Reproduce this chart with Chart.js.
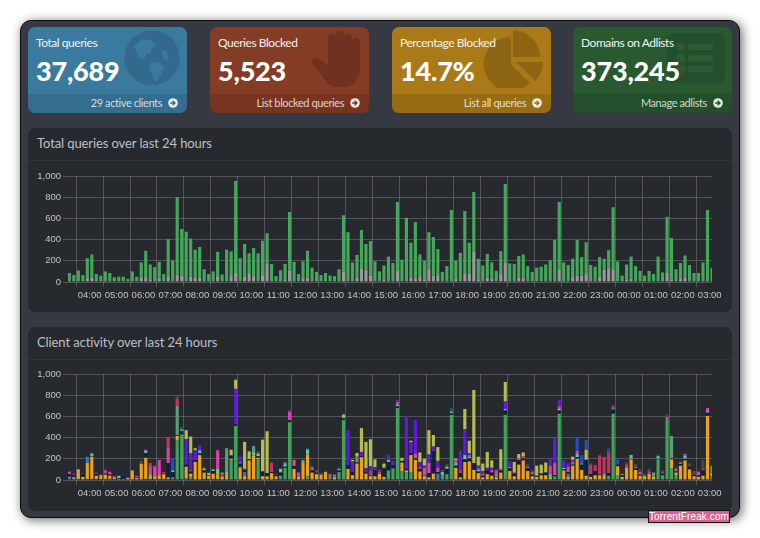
<!DOCTYPE html>
<html><head><meta charset="utf-8"><title>Pi-hole dashboard</title>
<script src="https://cdn.jsdelivr.net/npm/chart.js@4"></script>
<style>
html,body{margin:0;padding:0;background:#fff;width:760px;height:538px;overflow:hidden}
*{box-sizing:border-box}
body{font-family:Lato,"Noto Sans",sans-serif;position:relative}
#panel{position:absolute;left:20px;top:20px;width:720px;height:498px;background:#353a42;border:1px solid #0c0c0c;border-radius:11px;box-shadow:2px 2px 11px rgba(0,0,0,.6)}
.card{position:absolute;top:27px;width:159px;height:86px;border-radius:7px;overflow:hidden;color:#fff}
.card .foot{position:absolute;left:0;right:0;bottom:0;height:19px;background:rgba(0,0,0,.1)}
.card .foot span{position:absolute;right:25px;top:2px;font-size:11px;letter-spacing:-.4px;color:rgba(255,255,255,.78);white-space:nowrap}
.card .ttl{position:absolute;left:8px;top:8px;font-size:12px;letter-spacing:-.45px;white-space:nowrap;color:#f2f2f2}
.card .num{position:absolute;left:8px;top:27px;font-size:27px;font-weight:900;letter-spacing:-.2px;white-space:nowrap}
.card svg{position:absolute}
.arrow{right:9px;bottom:5px;width:10px;height:10px}
.box{position:absolute;left:28px;width:704px;height:184px;background:#26292e;border-radius:7px}
.box h3{margin:0;position:absolute;left:0;right:0;top:0;height:33px;border-bottom:1px solid #31353a;font-weight:400;font-size:13px;color:#b9c0c7;padding:7px 0 0 9px;letter-spacing:-.1px}
canvas{position:absolute;left:28px;display:block}
#wm{position:absolute;left:648px;top:510px;width:82px;height:13px;background:#d9608f;border:1px solid #111;color:#fff;font:10px/11px "Liberation Sans",sans-serif;text-align:center;letter-spacing:.1px}
</style></head><body>
<div id="panel"></div>

<div class="card" style="left:28px;background:#3a7a9f">
<svg style="left:96px;top:3px" width="56" height="56" viewBox="0 0 56 56"><circle cx="28" cy="28" r="27.5" fill="#33678a" opacity=".9"/><path d="M10 16l8-7 9 1 5 5-4 3-1 5-5 1-2 5-5-1-3-7zM38 20l5 2 2 8-4 1-3-5zM26 33l8-1 6 5-3 8-4 6-3 0-2-8-3-5z" fill="#3a7a9f"/></svg>
<div class="foot"></div>
<div class="ttl">Total queries</div><div class="num">37,689</div>
<div class="foot" style="background:none"><span>29 active clients</span></div>
<svg class="arrow" viewBox="0 0 10 10"><circle cx="5" cy="5" r="4.8" fill="#e8eef2"/><path d="M2.2 4.3h3l-1.1-1.2 1-.9 2.8 2.8-2.8 2.8-1-.9 1.100-1.200h-3z" fill="#346f90"/></svg>
</div>

<div class="card" style="left:210px;background:#853c25">
<svg style="left:101px;top:3px" width="52" height="58" viewBox="0 0 52 58"><path d="M17 30V8a4 4 0 0 1 8 0V5a4 4 0 0 1 8 0v3a4 4 0 0 1 8 0v4a4 4 0 0 1 8 0v26c0 10-6 19-15 19H26c-6 0-9-3-12-7L2 34c-3-4 2-8 6-5l9 7z" fill="#703120"/></svg>
<div class="foot"></div>
<div class="ttl">Queries Blocked</div><div class="num">5,523</div>
<div class="foot" style="background:none"><span>List blocked queries</span></div>
<svg class="arrow" viewBox="0 0 10 10"><circle cx="5" cy="5" r="4.8" fill="#eee5e2"/><path d="M2.2 4.3h3l-1.1-1.2 1-.9 2.8 2.8-2.8 2.8-1-.9 1.100-1.200h-3z" fill="#773722"/></svg>
</div>

<div class="card" style="left:392px;background:#a97a17">
<svg style="left:90px;top:3px" width="62" height="58" viewBox="0 0 62 58"><path d="M29 7v27l19 19a27 27 0 1 1-19-46z" fill="#8e6613"/><path d="M31 0a27 27 0 0 1 27 27H31zM34 32h27a26 26 0 0 1-8 19z" fill="#8e6613"/></svg>
<div class="foot"></div>
<div class="ttl">Percentage Blocked</div><div class="num">14.7%</div>
<div class="foot" style="background:none"><span>List all queries</span></div>
<svg class="arrow" viewBox="0 0 10 10"><circle cx="5" cy="5" r="4.8" fill="#f2ecdf"/><path d="M2.2 4.3h3l-1.1-1.2 1-.9 2.8 2.8-2.8 2.8-1-.9 1.100-1.200h-3z" fill="#9a6e14"/></svg>
</div>

<div class="card" style="left:573px;background:#28592f">
<svg style="left:94px;top:6px" width="58" height="50" viewBox="0 0 58 50"><rect width="58" height="50" rx="6" fill="#244f2c"/><g fill="#2a5b33"><circle cx="14" cy="14" r="4.500"/><circle cx="14" cy="25" r="4.500"/><circle cx="14" cy="36" r="4.500"/><rect x="21" y="11" width="25" height="6" rx="1"/><rect x="21" y="22" width="25" height="6" rx="1"/><rect x="21" y="33" width="25" height="6" rx="1"/></g></svg>
<div class="foot"></div>
<div class="ttl">Domains on Adlists</div><div class="num">373,245</div>
<div class="foot" style="background:none"><span>Manage adlists</span></div>
<svg class="arrow" viewBox="0 0 10 10"><circle cx="5" cy="5" r="4.8" fill="#e3ebe4"/><path d="M2.2 4.3h3l-1.1-1.2 1-.9 2.8 2.8-2.8 2.8-1-.9 1.100-1.200h-3z" fill="#254f2c"/></svg>
</div>

<div class="box" style="top:128px"><h3>Total queries over last 24 hours</h3></div>
<div class="box" style="top:327px"><h3>Client activity over last 24 hours</h3></div>
<canvas id="c1" width="704" height="142" style="top:164px"></canvas>
<canvas id="c2" width="704" height="142" style="top:362px"></canvas>
<div id="wm">TorrentFreak.com</div>

<script>
// ---- categories and tick labels ----
const binCount = 144;
const firstBinMinute = 195;           // 03:15, bins are 10 minutes wide
const binMinutes = Array.from({length: binCount}, (_, i) => firstBinMinute + i * 10);
const hourLabels = ['04:00','05:00','06:00','07:00','08:00','09:00','10:00','11:00','12:00','13:00','14:00','15:00','16:00','17:00','18:00','19:00','20:00','21:00','22:00','23:00','00:00','01:00','02:00','03:00'];
const valueTicks = [0,200,400,600,800,1000];

// ---- Total queries chart ----
const blocked = [
15,5,5,5,35,40,5,5,15,10,5,5,
5,5,5,5,45,45,25,10,35,5,55,10,
70,60,5,50,45,45,10,5,15,55,5,5,
65,85,5,50,75,55,5,65,170,10,5,10,
25,110,10,5,35,40,15,5,5,5,5,5,
10,100,5,5,40,130,115,60,15,15,20,15,
15,105,5,5,40,35,55,20,125,60,65,5,
15,10,30,5,75,75,285,25,15,40,35,5,
75,185,10,10,40,40,15,5,5,5,15,5,
15,120,10,10,45,60,60,75,15,15,50,115,
130,120,5,5,25,30,10,5,5,10,5,5,
5,85,25,5,35,40,15,5,5,15,10,5];
const permitted = [
70,60,105,60,190,220,70,55,85,75,40,45,
45,25,95,45,140,250,140,130,155,70,350,195,
730,440,470,360,260,285,110,70,85,230,65,300,
225,870,220,310,195,265,265,325,290,160,50,100,
145,550,180,70,160,255,120,90,60,80,55,50,
110,530,465,180,215,360,245,325,180,85,135,225,
165,650,205,600,330,530,205,180,345,365,245,90,
135,670,170,270,595,295,565,195,140,225,150,100,
215,740,165,160,205,220,135,90,130,140,150,200,
380,635,175,150,175,335,175,300,145,130,185,105,
170,585,190,55,140,210,140,100,55,95,70,235,
85,530,390,115,145,210,145,80,80,170,670,130];

// ---- Client activity chart, one array per client, bottom to top ----
const clientBase = [
15,10,10,5,10,10,10,10,10,10,10,5,
5,5,5,5,5,10,10,10,10,10,10,10,
5,5,5,5,5,5,10,10,10,10,5,5,
5,5,5,5,5,5,5,5,5,5,10,10,
5,5,5,5,5,5,5,5,5,5,10,5,
5,5,5,10,5,5,5,5,5,5,5,5,
5,5,5,5,5,5,5,5,5,5,5,5,
5,5,5,5,5,5,5,5,5,5,5,5,
5,5,5,5,5,5,5,5,5,5,5,5,
5,5,5,5,5,5,5,5,5,5,5,5,
5,5,5,5,5,5,5,5,5,5,5,5,
5,5,5,5,5,5,5,5,5,5,5,5];
const clientGreen = [
5,0,0,0,0,0,0,0,0,0,0,0,
0,0,0,0,0,0,0,0,0,0,0,15,
370,425,10,25,0,0,0,0,0,0,0,0,
180,505,0,0,0,0,190,0,0,0,0,30,
110,540,0,0,0,30,0,0,0,0,25,0,
70,560,0,0,0,0,0,0,0,0,0,85,
105,675,75,70,70,0,0,0,0,0,0,40,
50,610,0,0,0,0,0,0,0,0,0,0,
5,610,0,0,0,0,0,0,0,0,0,0,
30,620,0,0,0,0,0,0,0,0,0,0,
35,620,35,0,0,0,0,0,0,0,0,190,
40,565,105,40,0,0,0,0,0,0,0,30];
const clientOrange = [
10,15,90,25,150,210,30,35,40,30,15,5,
5,15,85,15,150,200,30,25,35,45,15,0,
40,0,110,30,165,230,60,30,50,45,30,50,
15,0,110,30,180,225,15,30,30,60,25,0,
0,0,100,25,160,205,65,50,45,70,0,20,
0,0,100,35,150,210,55,30,30,55,25,0,
0,0,85,15,160,185,75,30,20,55,5,0,
0,0,110,20,165,170,90,60,20,50,35,25,
60,0,80,30,140,180,80,30,25,40,40,25,
0,0,85,25,130,195,90,35,25,40,40,35,
0,0,90,25,110,190,90,35,30,55,25,0,
0,0,85,25,130,180,95,30,25,35,600,35];
const clientSteel = [
0,0,0,0,60,0,0,0,0,0,0,0,
0,0,0,0,0,0,0,0,0,0,0,0,
0,0,0,0,0,0,0,0,0,0,0,0,
0,0,10,40,0,0,0,0,0,0,0,0,
0,0,0,0,0,0,0,0,0,0,0,0,
0,0,0,0,0,0,0,0,0,0,0,0,
0,0,0,0,0,0,0,0,0,0,50,0,
0,0,0,0,0,0,0,0,0,0,0,0,
0,0,0,0,0,0,0,0,0,0,0,0,
0,0,0,30,0,0,0,0,0,0,0,0,
0,0,0,0,0,0,0,0,0,0,0,0,
0,0,0,0,0,0,0,0,0,0,0,0];
const clientNavy = [
25,15,0,25,0,5,15,0,10,10,0,5,
30,0,0,5,10,45,0,0,0,5,135,50,
5,30,20,20,15,15,20,5,25,0,5,0,
30,15,30,15,10,0,15,45,30,10,10,30,
10,20,25,0,0,0,25,15,0,0,0,0,
15,15,35,30,10,10,10,5,55,5,80,80,
30,15,15,15,20,15,25,5,40,210,15,0,
50,15,20,40,25,30,65,15,15,35,30,5,
20,40,25,25,40,20,25,15,10,15,25,0,
10,30,10,15,10,15,50,150,25,40,5,0,
25,40,15,15,0,5,15,10,0,5,0,5,
15,0,10,10,15,15,25,15,15,50,30,0];
const clientTeal = [
0,0,0,0,0,25,0,0,0,0,0,25,
0,0,0,0,0,20,15,0,0,0,0,15,
0,10,0,0,0,30,0,0,0,0,0,25,
5,0,10,0,0,35,0,0,0,0,0,35,
25,0,0,0,20,45,10,0,0,0,5,0,
15,10,0,0,0,0,0,0,0,0,10,20,
0,15,0,0,0,0,0,0,0,0,0,30,
20,15,25,0,40,15,0,15,0,0,0,15,
0,15,0,0,0,0,0,0,0,0,0,25,
0,15,15,0,5,30,10,0,0,0,0,15,
0,10,0,10,0,35,0,0,5,0,0,25,
0,5,0,0,0,30,0,0,0,0,15,0];
const clientLime = [
0,0,0,0,0,0,0,0,0,0,0,0,
0,0,0,0,0,0,0,0,0,0,0,0,
0,0,0,0,0,0,0,0,0,50,0,0,
0,0,0,0,0,0,0,0,0,0,0,0,
0,0,0,0,0,0,0,0,0,0,0,0,
0,0,0,0,0,0,0,0,0,0,0,0,
0,0,0,0,0,0,0,0,0,0,0,0,
0,0,0,0,0,0,0,0,0,0,0,0,
0,0,0,0,0,0,0,0,0,0,0,0,
0,0,0,0,0,0,0,0,0,0,0,0,
0,0,0,0,0,0,0,0,0,0,0,0,
0,0,0,0,0,0,0,0,0,0,0,0];
const clientSoftGreen = [
0,0,0,0,0,0,0,0,0,0,0,0,
0,0,0,0,0,0,0,0,0,0,0,0,
280,10,0,0,0,0,0,0,0,0,0,220,
0,0,0,0,0,55,0,0,0,0,0,0,
15,0,0,0,0,10,0,0,0,0,0,0,
0,0,0,0,40,0,0,0,0,0,0,0,
0,0,0,0,0,0,0,0,0,0,0,0,
0,0,0,0,0,0,0,0,0,0,0,0,
0,0,0,0,0,0,0,0,0,0,0,0,
0,0,0,0,0,0,0,0,0,0,0,0,
0,0,0,0,0,0,0,0,0,0,40,0,
0,0,210,0,0,0,0,0,0,0,0,65];
const clientMagenta = [
20,0,0,0,0,0,5,0,30,25,10,0,
0,0,0,15,10,10,75,95,145,5,145,0,
0,0,0,10,0,0,0,0,0,175,20,0,
0,0,0,0,0,0,0,0,0,0,0,0,
0,80,60,40,0,0,15,10,0,0,15,25,
0,0,0,0,15,0,0,0,0,10,0,0,
0,25,0,0,0,45,15,75,95,0,40,0,
0,0,25,0,0,15,0,15,20,0,25,40,
15,0,15,15,20,20,15,25,0,0,0,80,
115,25,0,50,25,30,0,0,0,0,0,0,
0,0,0,0,15,0,15,25,0,15,0,0,
0,20,0,25,15,15,0,10,30,0,30,0];
const clientCrimson = [
0,0,0,0,0,0,0,0,0,0,0,0,
0,0,0,0,0,0,30,5,0,10,100,0,
70,0,0,0,0,0,0,0,0,0,0,0,
0,0,0,0,0,0,0,0,0,85,0,0,
0,0,0,0,0,0,0,0,0,0,0,0,
0,0,0,0,0,0,0,50,0,0,0,0,
0,0,0,0,0,0,0,0,0,0,0,0,
10,0,0,30,0,0,0,0,0,0,0,0,
0,0,0,0,0,0,0,0,0,0,0,0,
0,0,0,0,0,0,0,0,90,55,180,160,
195,20,0,0,20,0,0,0,0,0,0,0,
20,0,0,0,0,0,0,0,0,20,0,0];
const clientPurple = [
0,15,0,0,0,0,0,0,0,0,0,0,
0,0,0,0,0,0,0,0,0,0,0,0,
0,0,240,160,95,50,0,0,0,0,0,0,
0,335,60,15,0,0,0,0,0,0,0,0,
0,0,0,0,0,0,0,0,0,0,0,0,
0,0,330,100,0,40,40,40,30,0,0,50,
25,0,0,500,100,315,50,20,80,45,65,0,
0,0,0,180,245,15,0,25,25,25,20,0,
0,70,50,0,0,0,15,0,0,0,0,70,
235,60,70,35,15,0,0,0,0,0,0,0,
0,0,0,0,0,0,0,0,0,0,0,0,
0,0,0,0,0,0,0,0,0,0,0,0];
const clientOlive = [
0,0,0,0,0,0,0,0,0,0,0,0,
0,0,0,0,0,0,0,0,0,0,0,0,
0,0,85,160,20,0,20,20,15,0,10,0,
50,85,0,255,75,0,25,300,395,0,0,0,
0,0,0,0,0,0,0,0,0,0,0,0,
0,25,0,15,35,225,250,255,75,0,35,0,
0,0,30,0,15,0,90,65,230,110,130,0,
0,0,15,0,190,120,690,85,70,150,70,0,
185,185,0,95,40,35,0,0,95,85,95,0,
0,0,0,0,30,0,0,95,0,0,0,0,
0,0,0,0,0,0,0,0,0,0,0,0,
0,0,0,0,0,0,0,0,0,0,0,0];
const clientBlue = [
0,0,0,0,0,0,0,0,0,0,0,0,
0,0,0,0,0,0,0,0,0,0,0,115,
0,0,0,0,0,0,0,0,0,0,0,0,
0,0,0,0,0,0,0,0,0,0,0,0,
0,0,0,0,0,0,0,0,0,0,0,0,
0,0,0,0,0,0,0,0,0,0,0,0,
0,0,0,0,0,0,0,0,0,0,0,0,
0,0,0,0,0,0,0,0,0,0,0,0,
0,0,0,0,0,0,0,0,0,0,0,0,
0,0,0,0,0,120,80,90,0,0,0,0,
25,0,50,0,0,0,0,0,0,0,0,0,
0,0,0,0,0,0,0,0,0,0,0,0];
const clientCap = [
10,10,5,10,0,10,10,10,10,5,5,0,
5,5,5,0,5,5,0,0,0,0,0,0,
25,20,0,0,0,0,10,10,0,5,0,5,
5,10,0,0,0,0,20,10,0,10,10,5,
5,15,0,5,10,0,15,15,15,10,5,5,
15,15,0,0,0,0,0,0,0,25,0,0,
15,20,0,0,0,0,0,0,0,0,0,20,
15,35,0,0,0,0,0,0,0,0,0,15,
0,0,0,0,0,0,10,20,0,0,0,0,
0,0,0,0,0,0,0,0,15,5,5,5,
15,10,0,5,15,5,25,30,20,25,5,15,
10,20,0,15,15,5,35,25,10,75,0,0];

// ---- chart construction ----
Chart.defaults.font.family = '"Liberation Sans", Arial, sans-serif';
Chart.defaults.font.size = 9.5;
Chart.defaults.color = '#c2c4c6';
const gridColor = 'rgba(255,255,255,0.2)';

function toMinutes(label, i) { const [h, m] = label.split(':').map(Number); return (h < 4 ? h + 24 : h) * 60 + m; }
function hhmm(v) { const m = ((v % 1440) + 1440) % 1440; const h = Math.floor(m / 60), n = m % 60; return String(h).padStart(2, '0') + ':' + String(n).padStart(2, '0'); }

function stackedOptions() {
  return {
    responsive: false, animation: false,
    layout: { padding: { top: 12, right: 20, bottom: 0, left: 0 } },
    plugins: { legend: { display: false }, tooltip: { enabled: false } },
    scales: {
      x: {
        type: 'linear', stacked: true, min: 192, max: 1625, offset: false,
        afterBuildTicks(s) { s.ticks = hourLabels.map(l => ({ value: toMinutes(l) })); },
        afterFit(s) { s.height = 24; },
        ticks: { autoSkip: false, maxRotation: 0, padding: 3, callback: v => hhmm(v) },
        grid: { color: gridColor, tickLength: 5 },
        border: { display: false }
      },
      y: {
        stacked: true, min: 0, max: 1000,
        afterBuildTicks(s) { s.ticks = valueTicks.map(v => ({ value: v })); },
        afterFit(s) { s.width = 40; },
        ticks: { padding: 2, callback: v => v.toLocaleString('en-US') },
        grid: { color: gridColor, tickLength: 5 },
        border: { display: false }
      }
    }
  };
}
function series(label, values, color) {
  return { label, data: values.map((y, i) => ({ x: binMinutes[i], y })), backgroundColor: color, borderWidth: 0, barPercentage: 1, categoryPercentage: 0.7, stack: 's' };
}
new Chart(document.getElementById('c1'), { type: 'bar', data: { datasets: [
  series('Blocked', blocked, '#9a9a9a'),
  series('Permitted', permitted, '#46a75c')
] }, options: stackedOptions() });
new Chart(document.getElementById('c2'), { type: 'bar', data: { datasets: [
  series('client 1', clientBase, '#3f7f96'),
  series('client 2', clientGreen, '#43a25a'),
  series('client 3', clientOrange, '#eda21e'),
  series('client 4', clientSteel, '#2f78c8'),
  series('client 5', clientNavy, '#0c2140'),
  series('client 6', clientTeal, '#58c2c4'),
  series('client 7', clientLime, '#55e05a'),
  series('client 8', clientSoftGreen, '#5f9d78'),
  series('client 9', clientMagenta, '#dc3fb0'),
  series('client 10', clientCrimson, '#c7335c'),
  series('client 11', clientPurple, '#6119dd'),
  series('client 12', clientOlive, '#b5bd4e'),
  series('client 13', clientBlue, '#1f4fcf'),
  series('client 14', clientCap, '#3d4c4e')
] }, options: stackedOptions() });
</script>
</body></html>
